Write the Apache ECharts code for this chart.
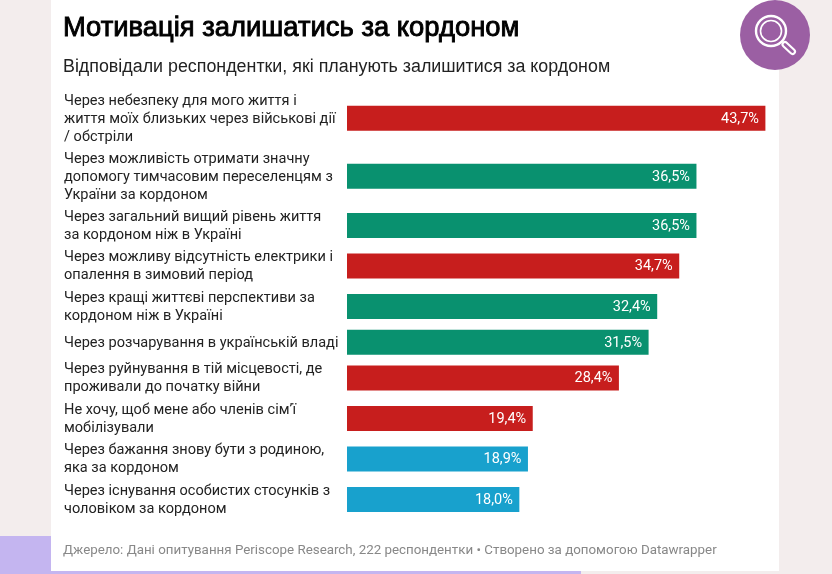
<!DOCTYPE html>
<html><head><meta charset="utf-8">
<style>html,body{margin:0;padding:0;background:#f3eded}#c{width:832px;height:574px}</style>
<script src="https://cdn.jsdelivr.net/npm/echarts@6/dist/echarts.min.js"></script>
</head><body><div id="c"></div>
<script>
const categories = [
 "Через небезпеку для мого життя і\nжиття моїх близьких через військові дії\n/ обстріли",
 "Через можливість отримати значну\nдопомогу тимчасовим переселенцям з\nУкраїни за кордоном",
 "Через загальний вищий рівень життя\nза кордоном ніж в Україні",
 "Через можливу відсутність електрики і\nопалення в зимовий період",
 "Через кращі життєві перспективи за\nкордоном ніж в Україні",
 "Через розчарування в українській владі",
 "Через руйнування в тій місцевості, де\nпроживали до початку війни",
 "Не хочу, щоб мене або членів сім’ї\nмобілізували",
 "Через бажання знову бути з родиною,\nяка за кордоном",
 "Через існування особистих стосунків з\nчоловіком за кордоном"
];
const values = [43.7,36.5,36.5,34.7,32.4,31.5,28.4,19.4,18.9,18.0];
const groups = ["r","g","g","r","g","g","r","r","b","b"];
const palette = {r:"#c71e1d",g:"#09916f",b:"#18a1cd"};
const titleText = "Мотивація залишатись за кордоном";
const subtitleText = "Відповідали респондентки, які планують залишитися за кордоном";
const footerText = "Джерело: Дані опитування Periscope Research, 222 респондентки • Створено за допомогою Datawrapper";

// row heights follow the number of label lines, as in the original table-like layout
const rowH = {1:31,2:40.5,3:58};
let cum = 0;
const rows = categories.map((c,i)=>{
  const h = rowH[c.split("\n").length];
  const mid = cum + h/2; cum += h;
  return [values[i], mid, i];
});
const total = cum;

const chart = echarts.init(document.getElementById('c'),null,{renderer:'canvas'});
chart.setOption({
  animation:false,
  backgroundColor:'transparent',
  grid:{left:347,width:418.4,top:89.3,height:total},
  xAxis:{type:'value',min:0,max:43.7,show:false},
  yAxis:{type:'value',min:0,max:total,inverse:true,show:false},
  graphic:[
    {type:'rect',silent:true,z:-10,shape:{x:0,y:536,width:51,height:38},style:{fill:'#c4b5f0'}},
    {type:'rect',silent:true,z:-10,shape:{x:0,y:570,width:581,height:4},style:{fill:'#c4b5f0'}},
    {type:'rect',silent:true,z:-9,shape:{x:51,y:0,width:728,height:571},style:{fill:'#ffffff'}},
    {type:'circle',silent:true,z:5,shape:{cx:775,cy:35,r:35},style:{fill:'#9b5fa3'}},
    {type:'circle',silent:true,z:6,shape:{cx:771,cy:31,r:15},style:{fill:'none',stroke:'#fff',lineWidth:2.4}},
    {type:'circle',silent:true,z:6,shape:{cx:771,cy:31,r:10.5},style:{fill:'none',stroke:'#fff',lineWidth:1.6}},
    {type:'line',silent:true,z:6,shape:{x1:785,y1:44.5,x2:792.5,y2:51.5},style:{stroke:'#fff',lineWidth:7,lineCap:'round'}},
    {type:'line',silent:true,z:7,shape:{x1:785,y1:44.5,x2:792.5,y2:51.5},style:{stroke:'#9b5fa3',lineWidth:2.8,lineCap:'round'}},
    {type:'text',silent:true,style:{x:63,y:28.5,text:titleText,fill:'#000',stroke:'#000',lineWidth:0.9,font:'27.4px "Liberation Sans"',verticalAlign:'middle'}},
    {type:'text',silent:true,style:{x:63,y:67,text:subtitleText,fill:'#222',font:'17.85px "Liberation Sans"',verticalAlign:'middle'}},
    {type:'text',silent:true,style:{x:63,y:551,text:footerText,fill:'#888',font:'13.35px Roboto',verticalAlign:'middle'}}
  ],
  series:[{
    type:'custom',
    coordinateSystem:'cartesian2d',
    encode:{x:0,y:1},
    data:rows,
    renderItem(params,api){
      const v=api.value(0), m=api.value(1), i=api.value(2);
      const p0=api.coord([0,m]), p1=api.coord([v,m]);
      const h=25;
      return {type:'group',children:[
        {type:'rect',shape:{x:p0[0],y:p0[1]-h/2,width:p1[0]-p0[0],height:h},style:{fill:palette[groups[i]]}},
        {type:'text',style:{x:p1[0]-6.5,y:p1[1]+0.8,text:v.toFixed(1).replace('.',',')+'%',fill:'#fff',font:'14.5px Roboto',align:'right',verticalAlign:'middle'}},
        {type:'text',style:{x:64,y:p0[1]+0.8,text:categories[i],fill:'#222',font:'14.55px Roboto',lineHeight:18,align:'left',verticalAlign:'middle'}}
      ]};
    }
  }]
});
</script></body></html>
